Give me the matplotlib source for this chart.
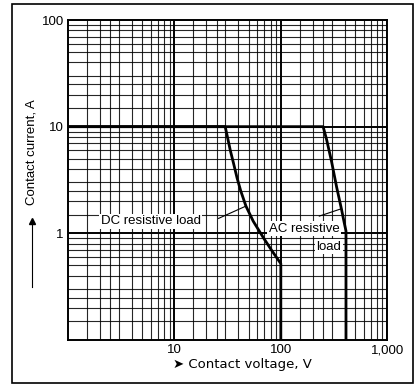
import numpy as np
import matplotlib
matplotlib.use('Agg')
from matplotlib import pyplot as plt
from matplotlib.ticker import FixedLocator, FixedFormatter, NullFormatter
from matplotlib.patches import Rectangle

plt.rcParams['font.family'] = ['Liberation Sans', 'DejaVu Sans']

# DC resistive load boundary (voltage V, current A)
dc_v = [1, 30, 31.5, 33.5, 36, 38.8, 42, 47, 55, 69, 83, 100, 100]
dc_a = [10, 10, 8.0, 6.0, 4.5, 3.3, 2.5, 1.8, 1.3, 0.9, 0.68, 0.52, 0.1]

# AC resistive load boundary
ac_v = [1, 250, 270, 300, 335, 371, 395, 410, 410]
ac_a = [10, 10, 7.5, 4.7, 2.7, 1.7, 1.25, 1.05, 0.1]

x_ticks = [10, 100, 1000]
x_labels = ['10', '100', '1,000']
y_ticks = [1, 10, 100]
y_labels = ['1', '10', '100']

fig = plt.figure(figsize=(4.15, 3.85), dpi=100)
ax = fig.add_axes([0.164, 0.117, 0.769, 0.831])
ax.set_xscale('log')
ax.set_yscale('log')
ax.set_xlim(1, 1000)
ax.set_ylim(0.1, 100)

ax.xaxis.set_major_locator(FixedLocator(x_ticks))
ax.xaxis.set_major_formatter(FixedFormatter(x_labels))
ax.yaxis.set_major_locator(FixedLocator(y_ticks))
ax.yaxis.set_major_formatter(FixedFormatter(y_labels))
subs = [1.5, 2, 2.5, 3, 4, 5, 6, 7, 8, 9]
minor = [d * s for d in [0.1, 1, 10, 100] for s in subs]
ax.xaxis.set_minor_locator(FixedLocator(minor))
ax.yaxis.set_minor_locator(FixedLocator(minor))
ax.xaxis.set_minor_formatter(NullFormatter())
ax.yaxis.set_minor_formatter(NullFormatter())
ax.tick_params(which='both', length=0, labelsize=9.5, pad=3)

ax.grid(which='major', color='black', linewidth=1.4)
ax.grid(which='minor', color='black', linewidth=0.8, alpha=0.85)
ax.set_axisbelow(True)
for sp in ax.spines.values():
    sp.set_linewidth(1.4)

ax.plot(dc_v, dc_a, color='black', linewidth=2.0, zorder=3)
ax.plot(ac_v, ac_a, color='black', linewidth=2.0, zorder=3)

# curve labels with leader lines
ax.text(6.0, 1.3, 'DC resistive load', fontsize=9.5, ha='center', va='center',
        bbox=dict(facecolor='white', edgecolor='none', pad=1), zorder=4)
ax.plot([26, 47], [1.38, 1.8], color='black', linewidth=0.8, zorder=4)
ax.text(165, 1.1, 'AC resistive', fontsize=9.5, ha='center', va='center',
        bbox=dict(facecolor='white', edgecolor='none', pad=1), zorder=4)
ax.text(370, 0.75, 'load', fontsize=9.5, ha='right', va='center',
        bbox=dict(facecolor='white', edgecolor='none', pad=1), zorder=4)
ax.plot([230, 371], [1.45, 1.7], color='black', linewidth=0.8, zorder=4)

# axis labels with arrows
fig.text(0.077, 0.605, 'Contact current, A', rotation=90, fontsize=9.5,
         ha='center', va='center')
fig.add_artist(plt.Line2D([0.077, 0.077], [0.255, 0.425], color='black',
                          linewidth=0.8))
fig.add_artist(plt.Line2D([0.077], [0.425], marker='^', color='black',
                          markersize=4))
fig.text(0.583, 0.054, '\u27a4 Contact voltage, V', fontsize=9.5,
         ha='center', va='center', family=['DejaVu Sans'])

fig.add_artist(Rectangle((0.028, 0.005), 0.968, 0.984, transform=fig.transFigure,
                         fill=False, edgecolor='black', linewidth=1.2))

fig.savefig('out.png', dpi=100)
